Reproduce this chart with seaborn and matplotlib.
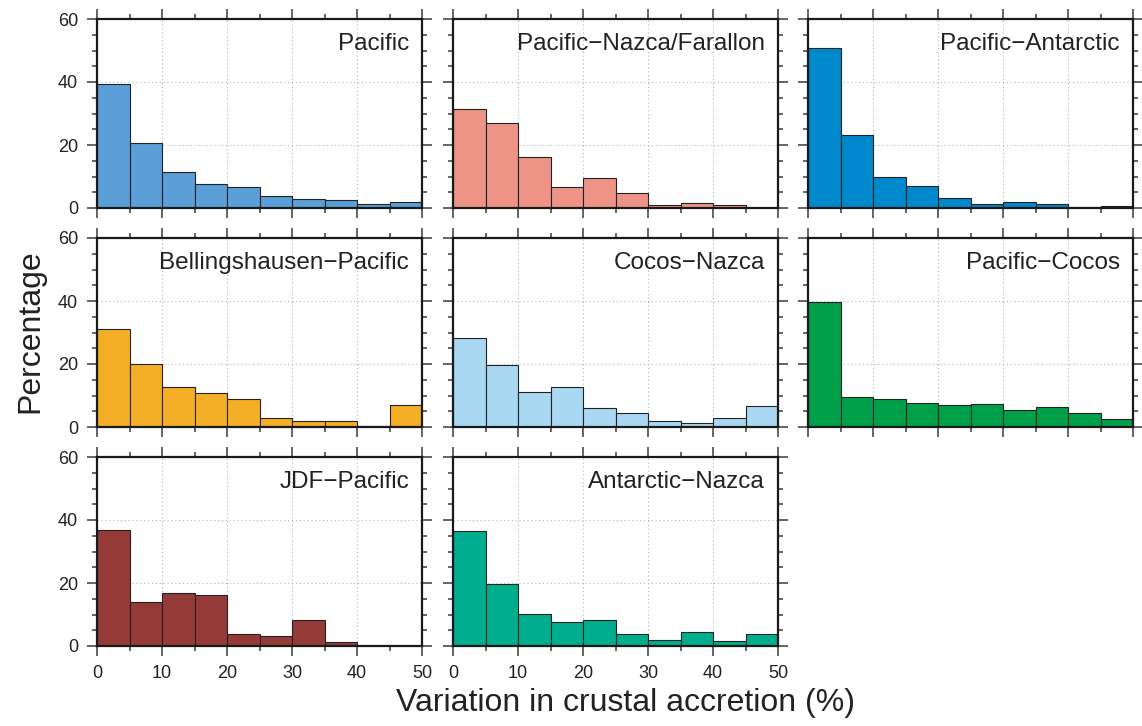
import matplotlib
matplotlib.use("Agg")
import matplotlib.pyplot as plt
from matplotlib.ticker import MultipleLocator
import seaborn as sns

# Histogram bins of crustal accretion variation (%)
bin_edges = [0, 5, 10, 15, 20, 25, 30, 35, 40, 45, 50]

ridge_names = [
    "Pacific", "Pacific\u2212Nazca/Farallon", "Pacific\u2212Antarctic",
    "Bellingshausen\u2212Pacific", "Cocos\u2212Nazca", "Pacific\u2212Cocos",
    "JDF\u2212Pacific", "Antarctic\u2212Nazca",
]

pacific = [39.5, 20.7, 11.3, 7.5, 6.8, 3.7, 2.7, 2.5, 1.4, 1.9]
pacific_nazca = [31.4, 27.1, 16.3, 6.8, 9.5, 4.9, 0.9, 1.7, 1.1, 0.1]
pacific_antarctic = [50.7, 23.3, 10.0, 7.0, 3.2, 1.4, 1.9, 1.2, 0.3, 0.6]
bellingshausen_pacific = [31.1, 19.9, 12.7, 10.7, 9.0, 3.0, 1.8, 2.0, 0.4, 7.1]
cocos_nazca = [28.1, 19.8, 11.2, 12.8, 6.1, 4.5, 1.8, 1.4, 3.0, 6.6]
pacific_cocos = [39.7, 9.6, 8.8, 7.7, 7.0, 7.4, 5.5, 6.5, 4.4, 2.6]
jdf_pacific = [36.9, 14.0, 16.9, 16.1, 3.8, 3.3, 8.4, 1.3, 0.15, 0.15]
antarctic_nazca = [36.6, 19.8, 10.3, 7.6, 8.3, 3.9, 2.0, 4.6, 1.7, 3.9]

ridge_values = [
    pacific, pacific_nazca, pacific_antarctic,
    bellingshausen_pacific, cocos_nazca, pacific_cocos,
    jdf_pacific, antarctic_nazca,
]

ridge_colors = [
    "#5a9fd7", "#ee9486", "#0088cc",
    "#f5af26", "#a9d9f2", "#00a04b",
    "#943a37", "#00ad8e",
]

sns.set_style("white")
plt.rcParams["font.family"] = ["Liberation Sans", "DejaVu Sans"]
plt.rcParams["axes.unicode_minus"] = True

W, H = 1142, 726
fig = plt.figure(figsize=(W / 100, H / 100), dpi=100)

col_left = [97, 453, 808]
row_top = [19, 238, 457]
ax_w, ax_h = 325, 189

bin_centers = [(a + b) / 2 for a, b in zip(bin_edges[:-1], bin_edges[1:])]

for i, (name, vals, color) in enumerate(zip(ridge_names, ridge_values, ridge_colors)):
    r, c = divmod(i, 3)
    left = col_left[c] / W
    bottom = 1 - (row_top[r] + ax_h) / H
    ax = fig.add_axes([left, bottom, ax_w / W, ax_h / H])
    ax.set_axisbelow(True)

    sns.histplot(x=bin_centers, weights=vals, bins=bin_edges, color=color,
                 alpha=1.0, edgecolor="#222222", linewidth=0.8, ax=ax)

    ax.set_xlim(0, 50)
    ax.set_ylim(0, 60)
    ax.xaxis.set_major_locator(MultipleLocator(10))
    ax.xaxis.set_minor_locator(MultipleLocator(5))
    ax.yaxis.set_major_locator(MultipleLocator(20))
    ax.yaxis.set_minor_locator(MultipleLocator(5))

    ax.grid(True, which="major", linestyle=(0, (1, 2.5)), color="#b5b5b5", linewidth=0.8)

    for sp in ax.spines.values():
        sp.set_visible(True)
        sp.set_linewidth(1.6)
        sp.set_color("#1a1a1a")

    ax.tick_params(which="both", direction="out", top=True, right=True,
                   bottom=True, left=True, color="#3a3a3a", width=1.1,
                   labelsize=13, labelcolor="#222222", pad=6)
    ax.tick_params(which="major", length=7.5)
    ax.tick_params(which="minor", length=3.8)

    ax.set_xlabel("")
    ax.set_ylabel("")
    if c != 0:
        ax.set_yticklabels([])
    if r != 2:
        ax.set_xticklabels([])

    ax.text(0.96, 0.925, name, transform=ax.transAxes, ha="right", va="top",
            fontsize=17.5, color="#222222")

fig.text(30 / W, 1 - 331 / H, "Percentage", rotation=90, ha="center", va="center",
         fontsize=23, color="#222222")
fig.text(625 / W, 1 - 703 / H, "Variation in crustal accretion (%)", ha="center",
         va="center", fontsize=23, color="#222222")

fig.savefig("out.png", dpi=100)
